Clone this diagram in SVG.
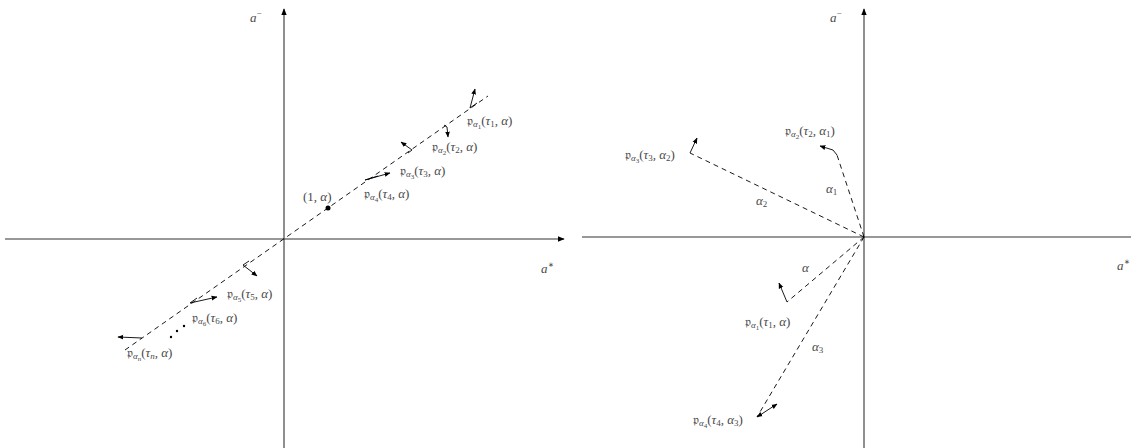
<svg xmlns="http://www.w3.org/2000/svg" width="1131" height="448" viewBox="0 0 1131 448">
<defs>
<marker id="ah" viewBox="0 0 10 10" refX="9" refY="5" markerWidth="6" markerHeight="6" orient="auto-start-reverse" markerUnits="userSpaceOnUse"><path d="M0,1 L10,5 L0,9 Z" fill="#000"/></marker>
<marker id="axh" viewBox="0 0 10 10" refX="9" refY="5" markerWidth="7" markerHeight="7" orient="auto" markerUnits="userSpaceOnUse"><path d="M0,1 L10,5 L0,9 Z" fill="#000"/></marker>
</defs>
<style>
.axis{stroke:#333;stroke-width:1.1;fill:none}
.dash{stroke:#000;stroke-width:0.9;stroke-dasharray:5 4;fill:none}
.vec{stroke:#000;stroke-width:0.9;fill:none}
.t{font-family:"Liberation Serif",serif;font-size:13px;fill:#4a4a4a}
.i{font-style:italic}
.s{font-size:9px;font-style:italic}
.ss{font-size:7px}
.n{font-size:9px;font-style:normal}
.sup{font-size:9px;font-style:normal}
.ast{font-size:7px;font-style:normal}
</style>
<rect width="1131" height="448" fill="#fff"/>
<g id="connectors">
<line class="axis" x1="284" y1="448" x2="284" y2="9" marker-end="url(#axh)"/>
<line class="axis" x1="5" y1="239" x2="564" y2="239" marker-end="url(#axh)"/>
<line class="axis" x1="864" y1="448" x2="864" y2="9" marker-end="url(#axh)"/>
<line class="axis" x1="582" y1="237" x2="1131" y2="237"/>
<line class="dash" x1="125" y1="350" x2="488" y2="96"/>
<line class="dash" x1="864" y1="237" x2="690" y2="153"/>
<line class="dash" x1="864" y1="237" x2="837" y2="155"/>
<line class="dash" x1="864" y1="237" x2="787" y2="302"/>
<line class="dash" x1="864" y1="237" x2="757" y2="417"/>
</g>
<g id="vectors-left">
<polyline class="vec" points="477,103 470,108 475,89" marker-end="url(#ah)"/>
<polyline class="vec" points="444,125 447,127 448,137" marker-end="url(#ah)"/>
<polyline class="vec" points="408,153 412,150 401,142" marker-end="url(#ah)"/>
<polyline class="vec" points="378,176 365,180 390,173" marker-end="url(#ah)"/>
<polyline class="vec" points="249,261 243,265 257,276" marker-end="url(#ah)"/>
<polyline class="vec" points="197,298 190,303 217,297" marker-end="url(#ah)"/>
<polyline class="vec" points="142,338 118,337" marker-end="url(#ah)"/>
<circle cx="328" cy="208" r="2.5" fill="#000"/>
<circle cx="171" cy="337" r="1.2" fill="#000"/>
<circle cx="177" cy="331" r="1.2" fill="#000"/>
<circle cx="184" cy="326" r="1.2" fill="#000"/>
</g>
<g id="vectors-right">
<polyline class="vec" points="690,153 697,138" marker-end="url(#ah)"/>
<polyline class="vec" points="837,155 833,150 820,146" marker-end="url(#ah)"/>
<polyline class="vec" points="787,302 779,283" marker-end="url(#ah)"/>
<line class="vec" x1="757" y1="417" x2="777" y2="404" marker-start="url(#ah)" marker-end="url(#ah)"/>
</g>
<g id="labels-left">
<text class="t i" x="250" y="22">a<tspan class="sup" dy="-6">−</tspan></text>
<text class="t i" x="541" y="273">a<tspan class="ast" dy="-6">∗</tspan></text>
<text class="t" x="303" y="201">(1, <tspan class="i">α</tspan>)</text>
<text class="t" x="467" y="125">𝔭<tspan class="s" dy="2">α</tspan><tspan class="ss" dy="1.5">1</tspan><tspan dy="-3.5">(</tspan><tspan class="i">τ</tspan><tspan class="n" dy="2">1</tspan><tspan dy="-2">, </tspan><tspan class="i">α</tspan>)</text>
<text class="t" x="432" y="151">𝔭<tspan class="s" dy="2">α</tspan><tspan class="ss" dy="1.5">2</tspan><tspan dy="-3.5">(</tspan><tspan class="i">τ</tspan><tspan class="n" dy="2">2</tspan><tspan dy="-2">, </tspan><tspan class="i">α</tspan>)</text>
<text class="t" x="400" y="175">𝔭<tspan class="s" dy="2">α</tspan><tspan class="ss" dy="1.5">3</tspan><tspan dy="-3.5">(</tspan><tspan class="i">τ</tspan><tspan class="n" dy="2">3</tspan><tspan dy="-2">, </tspan><tspan class="i">α</tspan>)</text>
<text class="t" x="364" y="198">𝔭<tspan class="s" dy="2">α</tspan><tspan class="ss" dy="1.5">4</tspan><tspan dy="-3.5">(</tspan><tspan class="i">τ</tspan><tspan class="n" dy="2">4</tspan><tspan dy="-2">, </tspan><tspan class="i">α</tspan>)</text>
<text class="t" x="227" y="298">𝔭<tspan class="s" dy="2">α</tspan><tspan class="ss" dy="1.5">5</tspan><tspan dy="-3.5">(</tspan><tspan class="i">τ</tspan><tspan class="n" dy="2">5</tspan><tspan dy="-2">, </tspan><tspan class="i">α</tspan>)</text>
<text class="t" x="192" y="322">𝔭<tspan class="s" dy="2">α</tspan><tspan class="ss" dy="1.5">6</tspan><tspan dy="-3.5">(</tspan><tspan class="i">τ</tspan><tspan class="n" dy="2">6</tspan><tspan dy="-2">, </tspan><tspan class="i">α</tspan>)</text>
<text class="t" x="127" y="357">𝔭<tspan class="s" dy="2">α</tspan><tspan class="ss i" dy="1.5">n</tspan><tspan dy="-3.5">(</tspan><tspan class="i">τ</tspan><tspan class="s" dy="2">n</tspan><tspan dy="-2">, </tspan><tspan class="i">α</tspan>)</text>
</g>
<g id="labels-right">
<text class="t i" x="830" y="22">a<tspan class="sup" dy="-6">−</tspan></text>
<text class="t i" x="1117" y="270">a<tspan class="ast" dy="-6">∗</tspan></text>
<text class="t" x="625" y="159">𝔭<tspan class="s" dy="2">α</tspan><tspan class="ss" dy="1.5">3</tspan><tspan dy="-3.5">(</tspan><tspan class="i">τ</tspan><tspan class="n" dy="2">3</tspan><tspan dy="-2">, </tspan><tspan class="i">α</tspan><tspan class="n" dy="2">2</tspan><tspan dy="-2">)</tspan></text>
<text class="t" x="785" y="135">𝔭<tspan class="s" dy="2">α</tspan><tspan class="ss" dy="1.5">2</tspan><tspan dy="-3.5">(</tspan><tspan class="i">τ</tspan><tspan class="n" dy="2">2</tspan><tspan dy="-2">, </tspan><tspan class="i">α</tspan><tspan class="n" dy="2">1</tspan><tspan dy="-2">)</tspan></text>
<text class="t" x="745" y="326">𝔭<tspan class="s" dy="2">α</tspan><tspan class="ss" dy="1.5">1</tspan><tspan dy="-3.5">(</tspan><tspan class="i">τ</tspan><tspan class="n" dy="2">1</tspan><tspan dy="-2">, </tspan><tspan class="i">α</tspan>)</text>
<text class="t" x="693" y="424">𝔭<tspan class="s" dy="2">α</tspan><tspan class="ss" dy="1.5">4</tspan><tspan dy="-3.5">(</tspan><tspan class="i">τ</tspan><tspan class="n" dy="2">4</tspan><tspan dy="-2">, </tspan><tspan class="i">α</tspan><tspan class="n" dy="2">3</tspan><tspan dy="-2">)</tspan></text>
<text class="t i" x="756" y="205">α<tspan class="n" dy="2">2</tspan></text>
<text class="t i" x="826" y="193">α<tspan class="n" dy="2">1</tspan></text>
<text class="t i" x="802" y="272">α</text>
<text class="t i" x="812" y="351">α<tspan class="n" dy="2">3</tspan></text>
</g>
</svg>
